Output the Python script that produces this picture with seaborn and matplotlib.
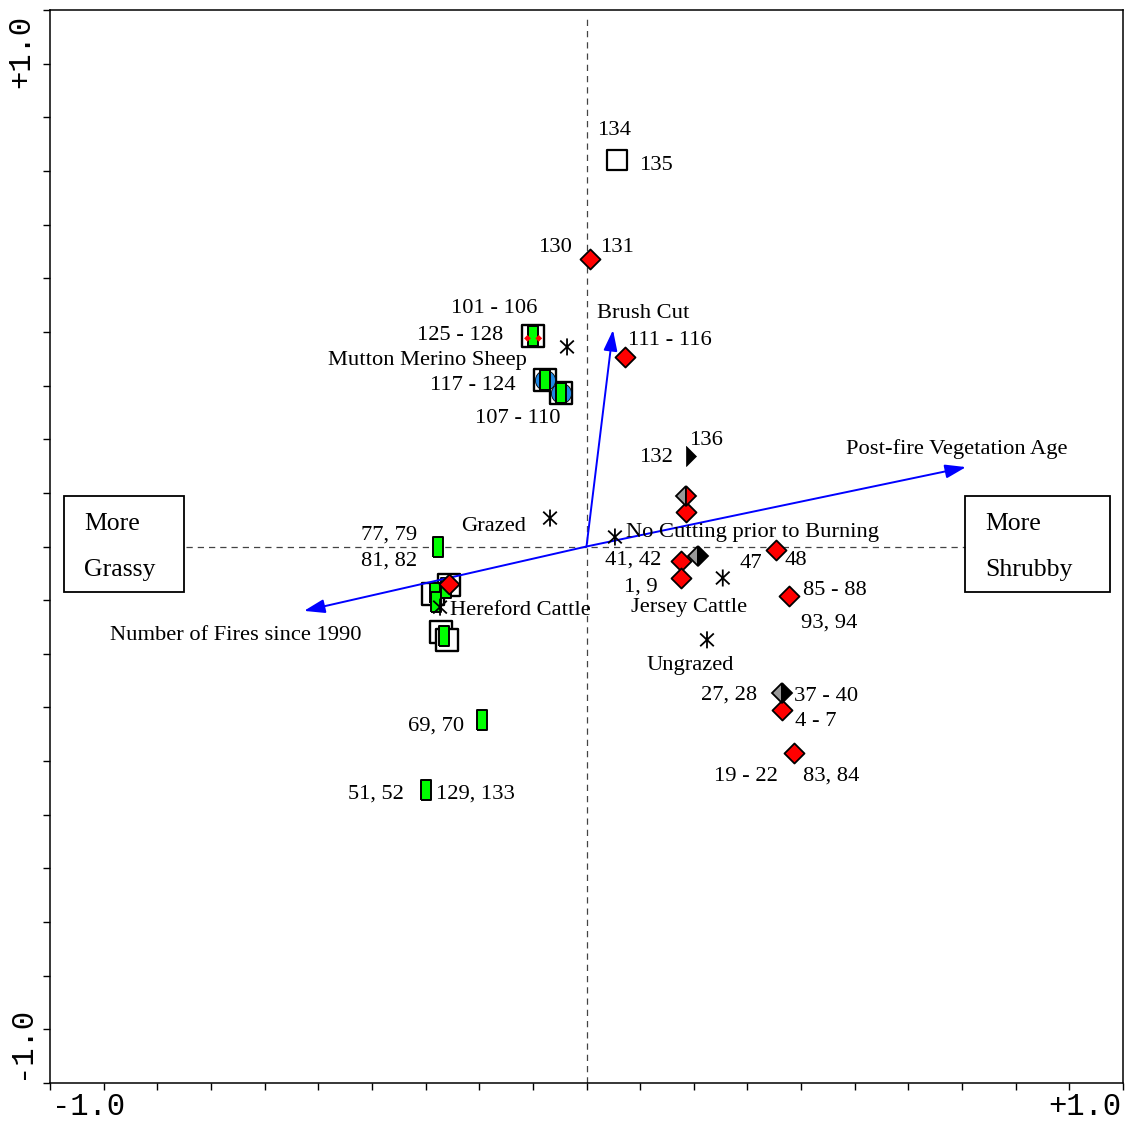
import numpy as np
import pandas as pd
import matplotlib
matplotlib.use("Agg")
import matplotlib.pyplot as plt
from matplotlib.path import Path
from matplotlib.patches import Rectangle
import seaborn as sns

# ---- sample scores on ordination axes 1 and 2 ----
# burnt sites with shrub regrowth (red diamonds)
red_x = [0.0065, 0.0718, 0.1855, 0.176, 0.176, 0.353, 0.377, 0.364, 0.387, -0.256]
red_y = [0.536, 0.353, 0.0643, -0.027, -0.0587, -0.0065, -0.0923, -0.305, -0.385, -0.070]

# half-filled diamonds (grey / red and grey / black)
grayred_x = [0.1855]
grayred_y = [0.094]
grayblack_x = [0.208, 0.364]
grayblack_y = [-0.0177, -0.273]

# right half of a diamond in black
halfblack_x = [0.1855]
halfblack_y = [0.169]

# open square sample
open_x = [0.0569]
open_y = [0.720]

# grassy sites: square frame, blue disc and green bar
frame_x = [-0.0997, -0.0774, -0.0475, -0.2861, -0.2563, -0.2712, -0.2600]
frame_y = [0.392, 0.310, 0.286, -0.0885, -0.0718, -0.1594, -0.1740]
disc_x = [-0.0774, -0.0475]
disc_y = [0.310, 0.286]
bar_x = [-0.0997, -0.0774, -0.0475, -0.277, -0.2824, -0.2805, -0.2619, -0.2656, -0.195, -0.299]
bar_y = [0.392, 0.310, 0.286, 0.0, -0.0867, -0.1034, -0.0774, -0.1668, -0.323, -0.454]
tick_red_x = [-0.1100, -0.0890]
tick_red_y = [0.388, 0.388]

# centroids of nominal variables
centroid_names = ["Mutton Merino Sheep", "Grazed", "No Cutting prior to Burning",
                  "Jersey Cattle", "Ungrazed", "Hereford Cattle"]
centroid_x = [-0.0363, -0.068, 0.053, 0.254, 0.2246, -0.273]
centroid_y = [0.372, 0.053, 0.0177, -0.0587, -0.174, -0.113]

# quantitative environmental variables (arrow tips)
arrow_names = ["Brush Cut", "Post-fire Vegetation Age", "Number of Fires since 1990"]
arrow_x = [0.0494, 0.7073, -0.5266]
arrow_y = [0.4035, 0.148, -0.120]

# text labels: (text, x, y)
label_text = ["134", "135", "130", "131", "101 - 106", "125 - 128", "Brush Cut",
              "111 - 116", "Mutton Merino Sheep", "117 - 124", "107 - 110", "136",
              "132", "Post-fire Vegetation Age", "Grazed", "No Cutting prior to Burning",
              "77, 79", "81, 82", "41, 42", "47", "48", "1, 9", "85 - 88",
              "Hereford Cattle", "Jersey Cattle", "93, 94", "Number of Fires since 1990",
              "Ungrazed", "27, 28", "37 - 40", "4 - 7", "69, 70", "19 - 22", "83, 84",
              "51, 52", "129, 133"]
label_x = [0.0513, 0.1295, -0.0587, 0.0569, -0.1724, -0.2358, 0.1053,
           0.1556, -0.2973, -0.2116, -0.1277, 0.2227,
           0.1295, 0.6906, -0.1724, 0.3103,
           -0.3681, -0.3681, 0.0867, 0.3066, 0.3904, 0.1016, 0.4632,
           -0.124, 0.191, 0.4520, -0.6533,
           0.1929, 0.2656, 0.4464, 0.4278, -0.2805, 0.2973, 0.4557,
           -0.3924, -0.2078]
label_y = [0.7745, 0.711, 0.5564, 0.5564, 0.4427, 0.3942, 0.4334,
           0.3849, 0.3458, 0.2992, 0.2395, 0.1985,
           0.1668, 0.1817, 0.0382, 0.027,
           0.0214, -0.027, -0.0252, -0.0308, -0.027, -0.0755, -0.0829,
           -0.1202, -0.1146, -0.1426, -0.165,
           -0.2227, -0.2768, -0.2787, -0.3271, -0.3346, -0.4278, -0.4278,
           -0.4613, -0.4613]

# gradient end boxes: (line 1, line 2, left, right, bottom, top)
box_lines = [("More", "Grassy"), ("More", "Shrubby")]
box_left = [-0.974, 0.7055]
box_right = [-0.750, 0.9758]
box_bottom = [-0.085, -0.085]
box_top = [0.094, 0.094]

sns.set_theme(style="white")
plt.rcParams["font.family"] = ["Liberation Serif", "DejaVu Serif"]
plt.rcParams["text.color"] = "black"

fig = plt.figure(figsize=(11.28, 11.22), dpi=100)
ax = fig.add_axes([50 / 1128, 39 / 1122, 1073 / 1128, 1073 / 1122])
ax.set_xlim(-1, 1)
ax.set_ylim(-1, 1)

# reference axes through the origin
ax.plot([-0.746, 0.705], [0, 0], ls=(0, (5, 4)), color="#444444", lw=0.9, zorder=1)
ax.plot([0, 0], [-1, 0.99], ls=(0, (5, 4)), color="#444444", lw=0.9, zorder=1)

# marker shapes
bar_marker = [(-0.5, -1), (0.5, -1), (0.5, 1), (-0.5, 1), (-0.5, -1)]
halfdiamond_marker = [(0, 1), (1, 0), (0, -1), (0, 1)]
star_marker = Path([(0, 1), (0, -1), (-0.8, 0.75), (0.8, -0.75), (-0.8, -0.75), (0.8, 0.75)],
                   [Path.MOVETO, Path.LINETO, Path.MOVETO, Path.LINETO, Path.MOVETO, Path.LINETO])

# grassy site symbols
sns.scatterplot(x=frame_x, y=frame_y, marker="s", s=235, facecolor="white",
                edgecolor="black", linewidth=1.7, ax=ax, zorder=3)
sns.scatterplot(x=disc_x, y=disc_y, marker="o", s=210, color="#1E88E5",
                edgecolor="black", linewidth=0.6, ax=ax, zorder=4)
sns.scatterplot(x=bar_x, y=bar_y, marker=bar_marker, s=215, color="#00FF00",
                edgecolor="black", linewidth=1.4, ax=ax, zorder=5)
sns.scatterplot(x=tick_red_x, y=tick_red_y, marker="D", s=12, color="red",
                edgecolor="none", ax=ax, zorder=6)

# open square
sns.scatterplot(x=open_x, y=open_y, marker="s", s=210, facecolor="white",
                edgecolor="black", linewidth=1.6, ax=ax, zorder=3)

# red diamonds
sns.scatterplot(x=red_x, y=red_y, marker="D", s=104, color="red",
                edgecolor="black", linewidth=1.3, ax=ax, zorder=7)

# half-filled diamonds
ax.plot(grayred_x, grayred_y, ls="none", marker="D", ms=10.2, fillstyle="left",
        mfc="#999999", mfcalt="red", mec="black", mew=1.3, zorder=7)
ax.plot(grayblack_x, grayblack_y, ls="none", marker="D", ms=10.2, fillstyle="left",
        mfc="#999999", mfcalt="black", mec="black", mew=1.3, zorder=7)
sns.scatterplot(x=halfblack_x, y=halfblack_y, marker=halfdiamond_marker, s=207,
                color="black", edgecolor="black", linewidth=0.5, ax=ax, zorder=7)

# centroids
sns.scatterplot(x=centroid_x, y=centroid_y, marker=star_marker, s=150,
                facecolor="none", edgecolor="black", linewidth=1.3, ax=ax, zorder=8)

# environmental arrows
for ex, ey in zip(arrow_x, arrow_y):
    ax.annotate("", xy=(ex, ey), xytext=(0, 0),
                arrowprops=dict(arrowstyle="-|>,head_length=0.9,head_width=0.3",
                                color="blue", lw=1.4, mutation_scale=14,
                                shrinkA=0, shrinkB=0),
                zorder=6)

# labels
for t, lx, ly in zip(label_text, label_x, label_y):
    ax.text(lx, ly, t, ha="center", va="center", fontsize=16.2, color="black", zorder=9)

# gradient boxes
for (l1, l2), bl, br, bb, bt in zip(box_lines, box_left, box_right, box_bottom, box_top):
    ax.add_patch(Rectangle((bl, bb), br - bl, bt - bb, fill=False, ec="black", lw=1.3, zorder=2))
    ax.text(bl + 0.038, bb + 0.71 * (bt - bb), l1, ha="left", va="center",
            fontsize=18.5, color="black")
    ax.text(bl + 0.038, bb + 0.23 * (bt - bb), l2, ha="left", va="center",
            fontsize=18.5, color="black")

# frame and ticks
for side in ["left", "bottom", "right", "top"]:
    ax.spines[side].set_visible(True)
    ax.spines[side].set_color("black")
    ax.spines[side].set_linewidth(1.1)
ticks = np.round(np.arange(-1.0, 1.001, 0.1), 1)
ax.set_xticks(ticks)
ax.set_yticks(ticks)
ax.set_xticklabels([])
ax.set_yticklabels([])
ax.tick_params(direction="out", length=5, width=1, color="black",
               bottom=True, left=True, top=False, right=False)

mono = ["Liberation Mono", "DejaVu Sans Mono"]
ax.text(-0.929, -1.045, "-1.0", ha="center", va="center", fontsize=22, family=mono,
        color="black", clip_on=False)
ax.text(0.929, -1.045, "+1.0", ha="center", va="center", fontsize=22, family=mono,
        color="black", clip_on=False)
ax.text(-1.054, 0.922, "+1.0", ha="center", va="center", fontsize=22, family=mono,
        color="black", rotation=90, clip_on=False)
ax.text(-1.054, -0.924, "-1.0", ha="center", va="center", fontsize=22, family=mono,
        color="black", rotation=90, clip_on=False)

fig.savefig("out.png", dpi=100)
